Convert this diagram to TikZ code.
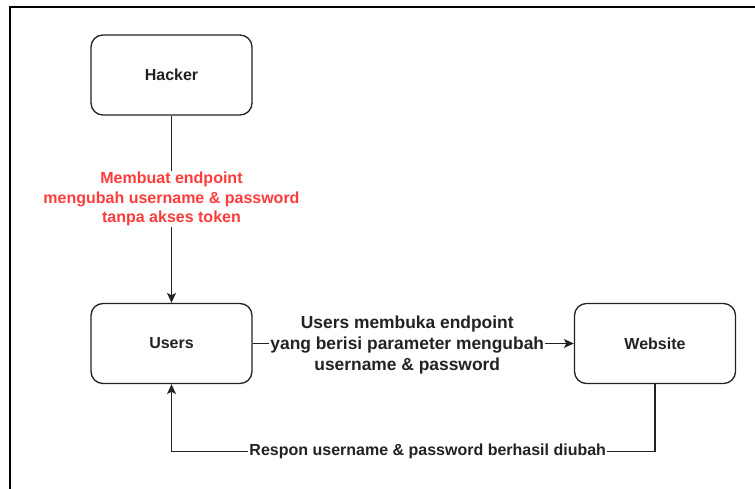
\documentclass[tikz,border=0pt]{standalone}
\usepackage{fontspec}
\setmainfont{Liberation Sans}
\usetikzlibrary{arrows.meta,positioning}
\definecolor{alertred}{HTML}{FF3B3B}
\definecolor{inkgray}{HTML}{222222}

\begin{document}
\begin{tikzpicture}[x=1pt,y=-1pt,
  box/.style={draw=inkgray, line width=1.3pt, rounded corners=12pt, minimum width=161pt, minimum height=80pt, text=inkgray, font=\bfseries\fontsize{16}{19.5}\selectfont},
  lbl/.style={fill=white, align=center, inner sep=1pt, text=inkgray, font=\bfseries\fontsize{16}{19.5}\selectfont},
  biglbl/.style={lbl, font=\bfseries\fontsize{17.4}{21}\selectfont},
  link/.style={draw=inkgray, line width=1.2pt, -{Stealth[length=10pt,width=9pt,inset=2.5pt]}}]
\useasboundingbox (0,0) rectangle (755,489);
% frame
\draw[line width=2pt] (10,489) -- (10,7) -- (755,7);

\node[box] (hacker) at (171.5,75) {Hacker};
\node[box] (users) at (171.5,343.5) {Users};
\node[box] (website) at (655,343.5) {Website};

\draw[link] (hacker) -- node[lbl, text=alertred, pos=0.445] {Membuat endpoint\\mengubah username \& password\\tanpa akses token} (users);
\draw[link] (users) -- node[biglbl, xshift=-6pt, yshift=-1.5pt] {Users membuka endpoint\\yang berisi parameter mengubah\\username \& password} (website);
\draw[link] (website.south) -- ++(0,67) -| node[lbl, pos=0.235] {Respon username \& password berhasil diubah} (users.south);
\end{tikzpicture}
\end{document}
